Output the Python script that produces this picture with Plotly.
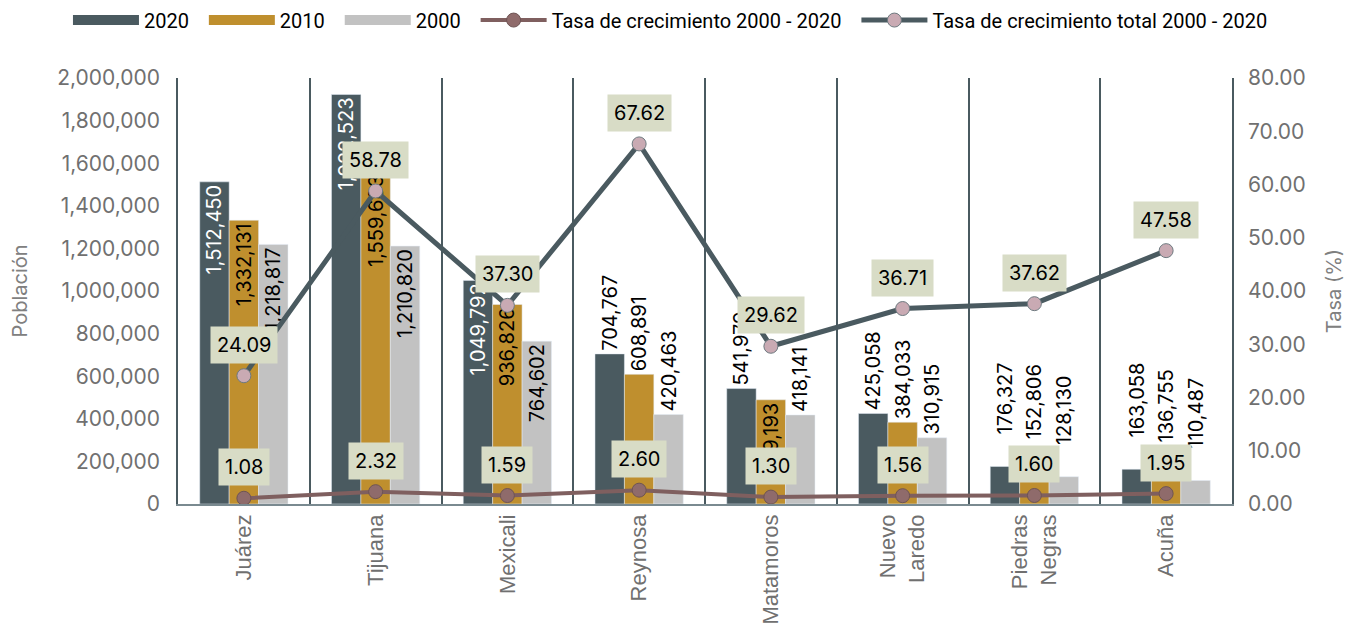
import plotly.graph_objects as go

cities = ["Juárez", "Tijuana", "Mexicali", "Reynosa", "Matamoros", "Nuevo<br>Laredo", "Piedras<br>Negras", "Acuña"]
pop_2020 = [1512450, 1922523, 1049792, 704767, 541979, 425058, 176327, 163058]
pop_2010 = [1332131, 1559683, 936826, 608891, 489193, 384033, 152806, 136755]
pop_2000 = [1218817, 1210820, 764602, 420463, 418141, 310915, 128130, 110487]
tasa_anual = [1.08, 2.32, 1.59, 2.60, 1.30, 1.56, 1.60, 1.95]
tasa_total = [24.09, 58.78, 37.30, 67.62, 29.62, 36.71, 37.62, 47.58]

pos_2020 = ["inside", "inside", "inside", "outside", "outside", "outside", "outside", "outside"]
pos_2010 = ["inside", "inside", "inside", "outside", "inside", "outside", "outside", "outside"]
pos_2000 = ["inside", "inside", "inside", "outside", "outside", "outside", "outside", "outside"]
# bar labels that sit higher above their (short) bars
lifted = ["Piedras<br>Negras", "Acuña"]

C2020 = "#4a5a60"
C2010 = "#bf8f2e"
C2000 = "#c2c2c2"
NUMFONT = "Inter, Roboto, sans-serif"
CATFONT = "Liberation Sans, Arial, sans-serif"
PAD = "\u00a0\u00a0"
BARGAP = 0.33
BAR_PX = (1054 / len(cities)) * (1 - BARGAP) / 3

def fmt(v):
    return f"{v:,}"

fig = go.Figure()
annotations = []

# legend swatches (wide rectangles) for the bar series
for name, color in (("2020", C2020), ("2010", C2010), ("2000", C2000)):
    fig.add_trace(go.Scatter(name=name + PAD, x=[None], y=[None], mode="lines",
                             line=dict(color=color, width=13), legendgroup=name,
                             hoverinfo="skip"))

def add_bar(name, vals, color, pos, inside_color, offset):
    texts = []
    for c, v in zip(cities, vals):
        if c in lifted:
            texts.append("")
            annotations.append(dict(x=c, y=v, xref="x", yref="y", text=fmt(v), textangle=-90,
                                    showarrow=False, yanchor="bottom", yshift=30,
                                    xshift=offset * BAR_PX,
                                    font=dict(size=20, color="#000000", family=NUMFONT)))
        else:
            texts.append(fmt(v))
    fig.add_trace(go.Bar(
        name=name, x=cities, y=vals, marker_color=color, legendgroup=name, showlegend=False,
        text=texts, textposition=pos, textangle=-90,
        insidetextanchor="end",
        insidetextfont=dict(color=inside_color, size=20, family=NUMFONT),
        outsidetextfont=dict(color="#000000", size=20, family=NUMFONT),
        constraintext="none", cliponaxis=False,
    ))

add_bar("2020", pop_2020, C2020, pos_2020, "#ffffff", -1)
add_bar("2010", pop_2010, C2010, pos_2010, "#000000", 0)
add_bar("2000", pop_2000, C2000, pos_2000, "#000000", 1)

fig.add_trace(go.Scatter(
    name="Tasa de crecimiento 2000 - 2020" + PAD, x=cities, y=tasa_anual, yaxis="y2",
    mode="lines+markers", line=dict(color="#7f5f5f", width=4),
    marker=dict(size=14, color="#8f6b6b", line=dict(color="#6e5454", width=1)),
    cliponaxis=False,
))
fig.add_trace(go.Scatter(
    name="Tasa de crecimiento total 2000 - 2020", x=cities, y=tasa_total, yaxis="y2",
    mode="lines+markers", line=dict(color=C2020, width=5),
    marker=dict(size=14, color="#c9aab3", line=dict(color="#6e7a80", width=1)),
    cliponaxis=False,
))

for series in (tasa_anual, tasa_total):
    for c, v in zip(cities, series):
        annotations.append(dict(x=c, y=v, xref="x", yref="y2", text=f"{v:.2f}", showarrow=False,
                                yshift=31, bgcolor="#d8dcc6", borderpad=6,
                                font=dict(size=20, color="#000000", family=NUMFONT)))

fig.update_layout(
    width=1358, height=630,
    margin=dict(l=170, r=134, t=70, b=134, autoexpand=False),
    paper_bgcolor="#ffffff", plot_bgcolor="rgba(0,0,0,0)",
    barmode="group", bargap=BARGAP, bargroupgap=0,
    font=dict(family=NUMFONT, color="#707070", size=17),
    legend=dict(orientation="h", x=-0.1044, xanchor="left", xref="paper",
                y=1.136, yref="paper", yanchor="middle",
                font=dict(size=20, color="#000000", family="Roboto, sans-serif"), itemwidth=66,
                traceorder="normal"),
    xaxis=dict(type="category", categoryorder="array", categoryarray=cities,
               tickson="boundaries", showgrid=True, gridcolor=C2020, gridwidth=1.5,
               showline=True, linecolor="#7a8a90", linewidth=1.5, ticks="", automargin=False,
               tickangle=-90, tickfont=dict(family=CATFONT, size=22, color="#707070")),
    yaxis=dict(range=[0, 2000000], dtick=200000, tickformat=",", showgrid=False,
               zeroline=False, showline=True, linecolor=C2020, linewidth=1.5, ticks="",
               automargin=False, ticklabelstandoff=12,
               tickfont=dict(size=21, color="#707070"),
               title=dict(text="Población", font=dict(size=20, color="#808080"), standoff=26)),
    yaxis2=dict(range=[0, 80], dtick=10, tickformat=".2f", overlaying="y", side="right",
                showgrid=False, zeroline=False, showline=True, linecolor=C2020, linewidth=1.5,
                ticks="", automargin=False, ticklabelstandoff=10,
                tickfont=dict(size=21, color="#707070"),
                title=dict(text="Tasa (%)", font=dict(size=20, color="#808080"), standoff=22)),
    annotations=annotations,
)

fig.write_html("out.html")
